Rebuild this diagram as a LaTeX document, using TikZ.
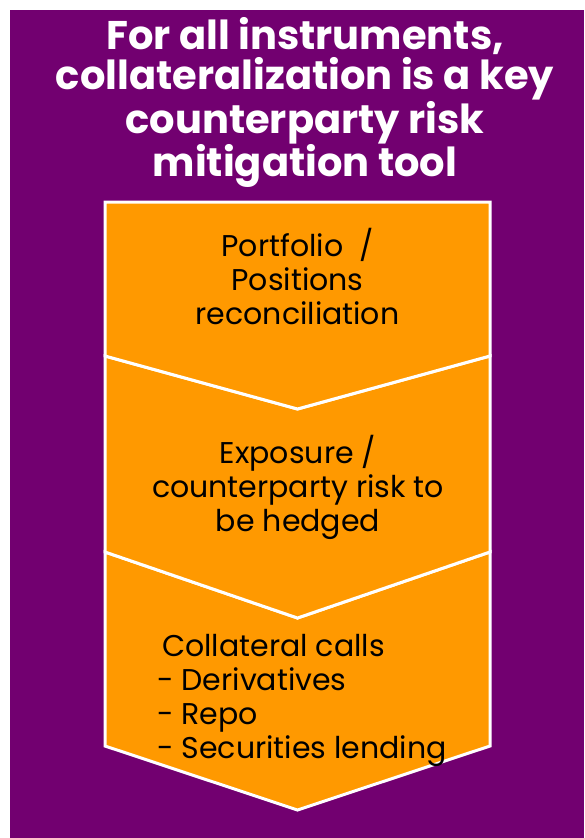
\documentclass[tikz,border=0pt]{standalone}
\usepackage{fontspec}
\setmainfont{Poppins}
\definecolor{bgpurple}{HTML}{720070}
\definecolor{steporange}{HTML}{FF9900}
\begin{document}
\begin{tikzpicture}[x=1pt,y=-1pt,
  stepshape/.style={fill=steporange,draw=white,line width=3pt},
  titletext/.style={text=white,font=\bfseries\fontsize{40}{40.3}\selectfont,align=center,inner sep=0pt},
  bodytext/.style={text=black,font=\fontsize{30}{34}\selectfont,inner sep=0pt}]
\useasboundingbox (0,0) rectangle (584,838);
\fill[bgpurple] (10,10) rectangle (584,838);
% chevrons
\draw[stepshape] (105,552) -- (297.5,618) -- (490,552) -- (490,746) -- (297.5,810) -- (105,746) -- cycle;
\draw[stepshape] (105,356) -- (297.5,409) -- (490,356) -- (490,552) -- (297.5,618) -- (105,552) -- cycle;
\draw[stepshape] (105,202) -- (490,202) -- (490,356) -- (297.5,409) -- (105,356) -- cycle;
% texts
\node[titletext,anchor=north] (title) at (305,17) {For all instruments,\\collateralization is a key\\counterparty risk\\mitigation tool};
\node[bodytext,align=center,anchor=north] (s1) at (297.5,228) {Portfolio \ /\\Positions\\reconciliation};
\node[bodytext,align=center,anchor=north] (s2) at (298,435) {Exposure /\\counterparty risk to\\be hedged};
\node[bodytext,align=left,anchor=north west] (s3) at (157,634) {\hspace{5pt}Collateral calls\\- Derivatives\\- Repo\\- Securities lending};
\end{tikzpicture}
\end{document}
